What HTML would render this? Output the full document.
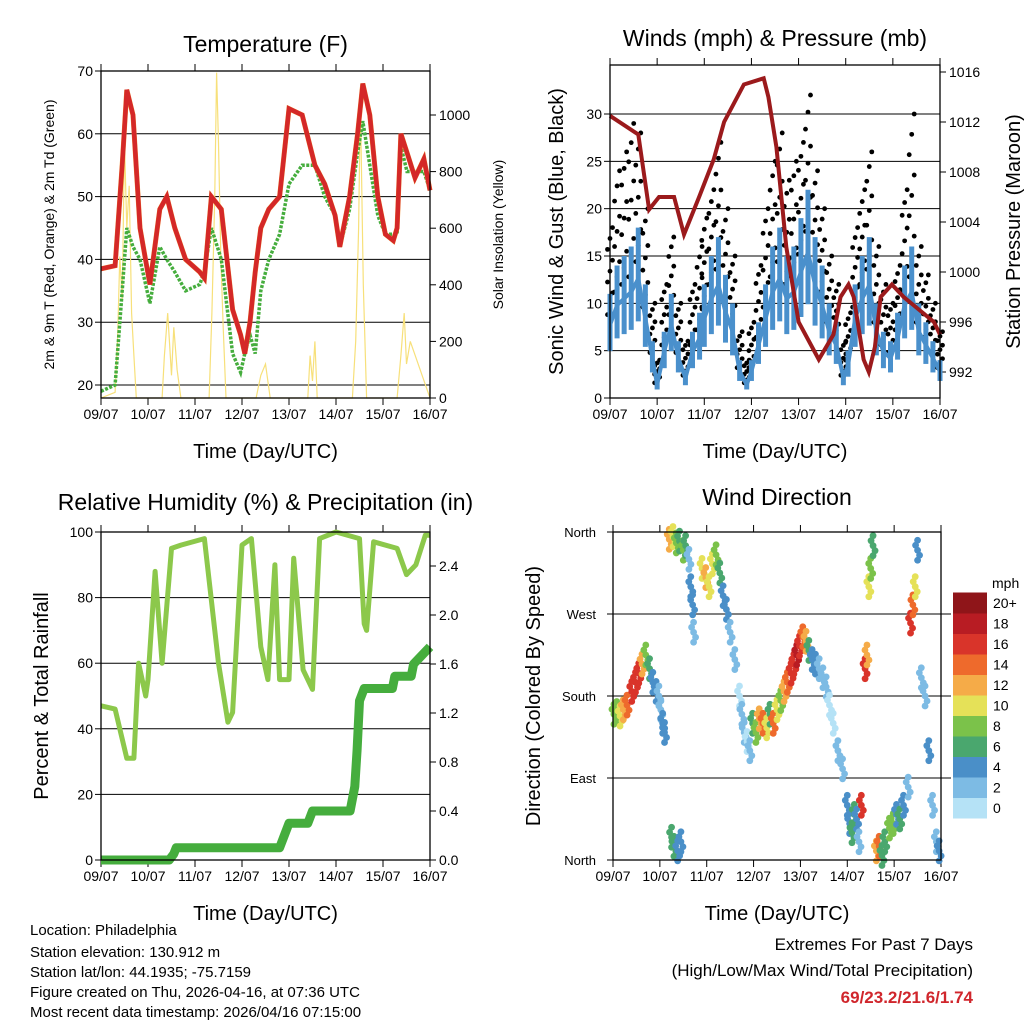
<!DOCTYPE html>
<html><head><meta charset="utf-8"><style>
body{margin:0;background:#fff;width:1024px;height:1024px;overflow:hidden;font-family:"Liberation Sans",sans-serif}
svg{position:absolute;left:0;top:0}
.ft{position:absolute;font-size:15px;color:#000;white-space:nowrap;line-height:17px}
</style></head><body>
<svg id="c" width="1024" height="1024"></svg>
<div class="ft" style="left:30px;top:922px">Location: Philadelphia</div>
<div class="ft" style="left:30px;top:944px">Station elevation: 130.912 m</div>
<div class="ft" style="left:30px;top:964px">Station lat/lon: 44.1935; -75.7159</div>
<div class="ft" style="left:30px;top:984px">Figure created on Thu, 2026-04-16, at 07:36 UTC</div>
<div class="ft" style="left:30px;top:1004px">Most recent data timestamp: 2026/04/16 07:15:00</div>
<div class="ft" style="right:51px;top:936px;font-size:17px">Extremes For Past 7 Days</div>
<div class="ft" style="right:51px;top:962px;font-size:17px">(High/Low/Max Wind/Total Precipitation)</div>
<div class="ft" style="right:51px;top:989px;font-size:17px;font-weight:bold;color:#d0262c">69/23.2/21.6/1.74</div>
<script>
const dayLabels=["09/07","10/07","11/07","12/07","13/07","14/07","15/07","16/07"];
const tTimes=[0,0.3,0.45,0.55,0.68,0.83,1.04,1.25,1.4,1.57,1.8,2.1,2.2,2.35,2.56,2.8,2.97,3.06,3.17,3.28,3.4,3.57,3.8,4.0,4.28,4.55,4.76,4.98,5.08,5.29,5.46,5.57,5.72,5.89,6.05,6.22,6.3,6.38,6.51,6.68,6.87,7.0];
const tempT=[38.5,39,55,67,63,45,36,48,50,45,40,38,37,50,48,32,28,25,30,38,45,48,50,64,63,55,52,47,42,50,60,68,63,50,44,43,45,60,57,53,56,51];
const tempTd=[19,20,35,45,42,40,33,42,40,38,35,36,38,45,40,25,22,25,28,25,35,40,44,52,55,55,50,47,42,48,57,62,55,47,44,44,44,58,54,54,54,51];
const solarTimes=[0,0.3,0.35,0.4,0.45,0.5,0.55,0.6,0.65,0.7,0.75,1.3,1.35,1.42,1.5,1.55,1.62,1.7,2.3,2.36,2.42,2.46,2.5,2.55,2.6,2.66,3.3,3.4,3.5,3.6,4.4,4.45,4.5,4.55,4.6,5.35,5.42,5.48,5.52,5.58,5.65,6.3,6.38,6.45,6.5,6.58,7.0];
const solarVals=[0,20,200,500,350,900,600,750,300,150,0,0,150,300,80,250,100,0,0,300,700,1150,900,500,250,0,0,80,120,0,0,150,60,200,0,0,200,600,1050,400,0,0,150,300,120,200,0];
const windT=[0,0.15,0.3,0.45,0.6,0.75,0.9,1.0,1.15,1.3,1.45,1.6,1.75,1.9,2.0,2.15,2.3,2.45,2.6,2.75,2.9,3.0,3.15,3.3,3.45,3.6,3.75,3.9,4.05,4.2,4.35,4.5,4.65,4.8,4.95,5.05,5.2,5.35,5.5,5.65,5.8,5.95,6.1,6.25,6.4,6.55,6.7,6.85,7.0];
const windMean=[11,14,15,16,18,12,6,2,7,11,6,3,7,9,12,15,17,13,10,4,2,4,8,12,16,18,15,16,19,22,17,14,10,8,3,5,12,15,17,10,7,6,9,14,16,10,8,6,4];
const windGust=[18,24,26,29,28,20,10,4,12,17,10,6,12,16,19,22,27,20,15,7,4,8,14,20,25,28,23,25,27,32,24,20,15,12,6,9,18,22,26,16,12,10,14,22,30,16,13,10,7];
const presT=[0,0.6,0.83,1.04,1.36,1.57,1.89,2.2,2.42,2.84,3.26,3.36,3.53,3.74,4.0,4.43,4.74,4.89,5.06,5.17,5.38,5.49,5.62,5.74,5.98,6.23,6.55,6.87,7.0];
const presV=[1012.5,1011,1005,1006,1006,1003,1006,1009,1012,1015,1015.5,1014,1010,1002,996,993,995,998,999,998,993,992,994,998,999,998,997,996,995];
const rhT=[0,0.3,0.55,0.7,0.8,0.95,1.0,1.15,1.3,1.5,1.7,2.2,2.5,2.7,2.8,3.0,3.2,3.4,3.55,3.7,3.8,4.0,4.1,4.3,4.5,4.65,5.0,5.5,5.6,5.65,5.8,6.3,6.5,6.7,6.9,7.0];
const rhV=[47,46,31,31,60,50,55,88,60,95,96,98,60,42,45,96,98,65,55,90,55,55,92,58,52,98,100,98,72,70,97,95,87,90,99,99];
const prT=[0,1.45,1.55,1.6,3.8,3.9,4.0,4.4,4.5,5.3,5.4,5.45,5.5,5.6,6.2,6.25,6.6,6.65,6.9,7.0];
const prV=[0,0,0.05,0.1,0.1,0.2,0.3,0.3,0.4,0.4,0.6,0.9,1.3,1.4,1.4,1.5,1.5,1.6,1.7,1.74];
const dirT=[0.02,0.08,0.15,0.22,0.3,0.4,0.48,0.55,0.62,0.7,0.78,0.85,0.92,0.98,1.02,1.06,1.1,1.2,1.28,1.35,1.42,1.5,1.55,1.25,1.3,1.38,1.45,1.62,1.66,1.7,1.72,1.9,1.98,2.05,2.12,2.2,2.28,2.35,2.42,2.5,2.6,2.7,2.75,2.8,2.86,2.92,2.98,3.05,3.12,3.2,3.28,3.35,3.42,3.5,3.58,3.65,3.72,3.8,3.86,3.92,3.98,4.05,4.12,4.18,4.25,4.32,4.4,4.48,4.55,4.62,4.7,4.8,4.9,5.0,5.05,5.1,5.15,5.2,5.25,5.3,5.38,5.42,5.46,5.5,5.55,5.62,5.68,5.74,5.8,5.9,5.98,6.05,6.12,6.2,6.3,6.35,6.4,6.45,6.5,6.58,6.66,6.74,6.82,6.9,6.96];
const dirDeg=[160,163,158,165,170,185,195,205,215,225,210,195,185,180,165,150,140,352,355,348,350,340,345,25,15,10,20,330,300,280,250,320,310,300,325,335,315,290,275,250,220,180,160,140,130,120,150,140,155,150,145,160,150,165,175,185,195,205,215,225,235,245,240,230,220,215,210,200,190,170,150,120,100,60,40,30,50,45,20,60,210,225,300,320,345,10,15,5,20,35,40,50,45,60,80,260,280,300,340,200,180,120,60,20,10];
const dirSpd=[8,9,10,12,14,16,17,16,12,8,7,5,4,3,3,4,4,12,10,8,6,9,7,6,7,5,4,3,4,4,3,10,12,11,10,8,7,4,4,3,2,1,2,2,1,3,6,8,12,15,10,7,14,11,9,12,15,16,17,18,16,14,12,6,5,4,3,2,2,1,1,2,3,4,5,6,7,4,3,16,17,12,10,8,6,13,15,7,6,9,8,5,7,4,3,16,14,10,4,3,3,4,2,3,4];
const speedBins=["0","2","4","6","8","10","12","14","16","18","20+"];
const binColors=["#b5e2f6","#7dbbe4","#4a8fc8","#4aa76e","#7bc24a","#e5e158","#f5ab48","#ee6a2c","#d9342a","#b81c23","#8f1519"];

const S=document.getElementById('c'),NS="http://www.w3.org/2000/svg";
function mk(t,a,p){const e=document.createElementNS(NS,t);for(const k in a)e.setAttribute(k,a[k]);(p||S).appendChild(e);return e;}
function txt(x,y,s,sz,anc,rot){const e=mk('text',{x:x,y:y,'font-size':sz,'text-anchor':anc||'middle','font-family':'Liberation Sans, sans-serif'});if(rot)e.setAttribute('transform','rotate(-90 '+x+' '+y+')');e.textContent=s;return e;}
function lin(x0,x1,d0,d1){return v=>x0+(v-d0)*(x1-x0)/(d1-d0);}
function pathOf(xs,ys,fx,fy){return xs.map((t,i)=>(i?'L':'M')+fx(t).toFixed(1)+' '+fy(ys[i]).toFixed(1)).join(' ');}

function panel(L,R,T,B,title,ty,ticksL,fyL,ylab,ticksR,fyR,yrlab,name){
  const fx=lin(L,R,0,7);
  let e=txt((L+R)/2,ty,title,23);
  if(ticksL)ticksL.forEach(v=>{const y=fyL(v);if(y>T+2&&y<B-2){let g=mk('line',{x1:L,x2:R,y1:y,y2:y,stroke:'#000','stroke-width':1});}
    mk('line',{x1:L,x2:L-6,y1:y,y2:y,stroke:'#000'});
    let t=txt(L-8,y+5,String(v),14,'end');});
  if(ticksR)ticksR.forEach(v=>{const y=fyR(v);mk('line',{x1:R,x2:R+6,y1:y,y2:y,stroke:'#000'});let t=txt(R+9,y+5,v.txt,14,'start');});
  dayLabels.forEach((d,i)=>{const x=fx(i);mk('line',{x1:x,x2:x,y1:B,y2:B+7,stroke:'#000'});mk('line',{x1:x,x2:x,y1:T,y2:T-7,stroke:'#000'});let t=txt(x,B+21,d,14);});
  let xt=txt((L+R)/2,B+60,'Time (Day/UTC)',20);
  let y1=txt(ylab[1],(T+B)/2,ylab[0],ylab[2],'middle',true);
  if(yrlab){let y2=txt(yrlab[1],(T+B)/2,yrlab[0],yrlab[2],'middle',true);}
  return fx;
}
function frame(L,R,T,B,name){let f=mk('rect',{x:L,y:T,width:R-L,height:B-T,fill:'none',stroke:'#000','stroke-width':1.3});}

// Panel 1 temperature
(function(){const L=101,R=430,T=71,B=398;const fy=lin(385,71,20,70),fs=lin(398,115,0,1000);
const fx=panel(L,R,T,B,'Temperature (F)',52,[20,30,40,50,60,70],fy,['2m & 9m T (Red, Orange) & 2m Td (Green)',54,14],[0,200,400,600,800,1000].map(v=>({v,txt:String(v)})),o=>fs(o.v),['Solar Insolation (Yellow)',503,14],'temp');
let p=mk('path',{d:pathOf(solarTimes,solarVals,fx,fs),fill:'none',stroke:'#f7e07a','stroke-width':1.2});
p=mk('path',{d:pathOf(tTimes,tempTd,fx,fy),fill:'none',stroke:'#45ad3d','stroke-width':3.5,'stroke-dasharray':'3 1.5'});
p=mk('path',{d:pathOf(tTimes,tempT,fx,fy),fill:'none',stroke:'#f08a2c','stroke-width':5});
p=mk('path',{d:pathOf(tTimes,tempT,fx,fy),fill:'none',stroke:'#d42828','stroke-width':4.5});
frame(L,R,T,B,'temp');})();

// Panel 2 winds
(function(){const L=610,R=940,T=65,B=398;const fy=lin(398,114,0,30),fp=lin(372,72,992,1016);
const fx=panel(L,R,T,B,'Winds (mph) & Pressure (mb)',46,[0,5,10,15,20,25,30],fy,['Sonic Wind & Gust (Blue, Black)',563,20],[992,996,1000,1004,1008,1012,1016].map(v=>({v,txt:String(v)})),o=>fp(o.v),['Station Pressure (Maroon)',1020,20],'winds');
windT.forEach((t,i)=>{const x=fx(t);const g=windGust[i],m=windMean[i];
  for(let k=0;k<=8;k++){const v=m*0.8+(g-m*0.8)*k/8;let c=mk('circle',{cx:x+((k%3)-1)*2.5,cy:fy(v),r:2.4,fill:'#000'});}
  let b=mk('line',{x1:x,x2:x,y1:fy(m*0.45),y2:fy(m),stroke:'#4a90cc','stroke-width':5});});
let p=mk('path',{d:pathOf(windT,windMean.map(v=>v*0.7),fx,fy),fill:'none',stroke:'#4a90cc','stroke-width':4});
p=mk('path',{d:pathOf(presT,presV,fx,fp),fill:'none',stroke:'#9b1a1c','stroke-width':4});
frame(L,R,T,B,'winds');})();

// Panel 3 RH
(function(){const L=101,R=430,T=532,B=860;const fy=lin(860,532,0,100),fr=lin(860,566,0,2.4);
const fx=panel(L,R,T,B,'Relative Humidity (%) & Precipitation (in)',510,[0,20,40,60,80,100],fy,['Percent & Total Rainfall',48,20],[0,0.4,0.8,1.2,1.6,2.0,2.4].map(v=>({v,txt:v.toFixed(1)})),o=>fr(o.v),null,'rh');
let p=mk('path',{d:pathOf(rhT,rhV,fx,fy),fill:'none',stroke:'#8cc84b','stroke-width':5,'stroke-linejoin':'round'});
p=mk('path',{d:pathOf(prT,prV,fx,fr),fill:'none',stroke:'#45ad3d','stroke-width':9,'stroke-linejoin':'round'});
frame(L,R,T,B,'rh');})();

// Panel 4 wind dir
(function(){const L=613,R=941,T=532,B=860;const fy=lin(860,532,0,360);
const fx=panel(L,R,T,B,'Wind Direction',505,null,null,['Direction (Colored By Speed)',540,20],null,null,null,'dir');
['North','East','South','West','North'].forEach((s,i)=>{const y=fy(i*90);
  if(i>0&&i<4){let g=mk('line',{x1:L-6,x2:R+10,y1:y,y2:y,stroke:'#000'});}
  mk('line',{x1:L,x2:L-6,y1:y,y2:y,stroke:'#000'});
  let t=txt(L-17,y+5,s,13,'end');});
dirT.forEach((t,i)=>{const b=Math.min(10,Math.floor(dirSpd[i]/2));
  for(let k=-2;k<=2;k++){let c=mk('circle',{cx:fx(t)+(k%2)*2,cy:fy(dirDeg[i])+k*5,r:3.4,fill:binColors[b]});}});
frame(L,R,T,B,'dir');
const cb=mk('g',{});
const bh=20.5,cy0=818;
speedBins.forEach((s,i)=>{const y=cy0-(i+1)*bh;mk('rect',{x:953,y:y,width:34,height:bh+0.5,fill:binColors[i]},cb);
  let t=txt(993,y+bh/2+5,s,14,'start');});
let u=txt(992,588,'mph',14,'start');
})();
</script>
</body></html>
